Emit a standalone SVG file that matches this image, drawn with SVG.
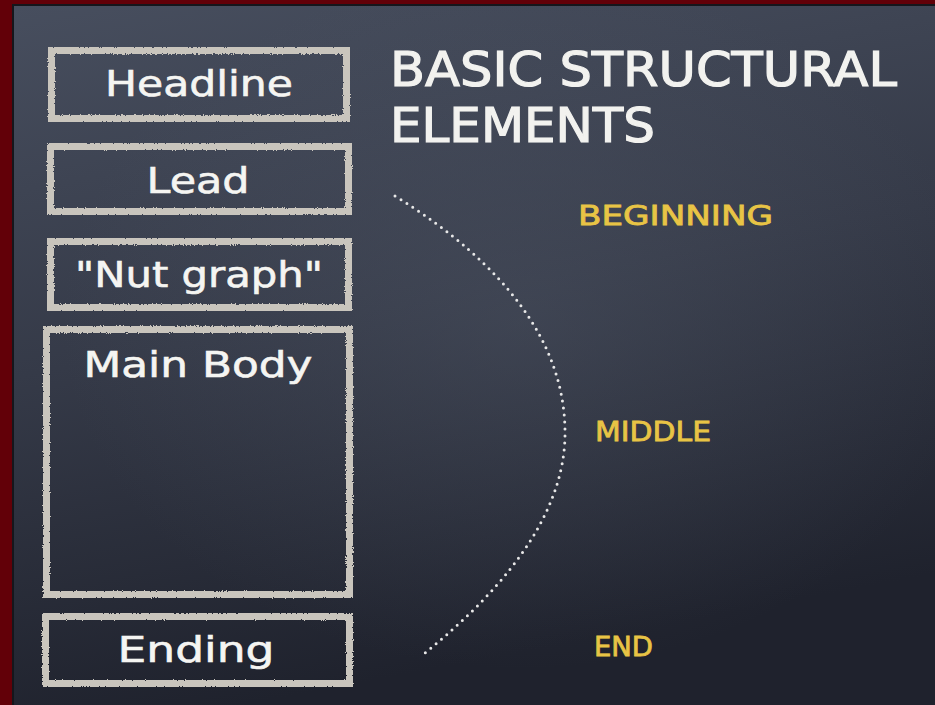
<svg xmlns="http://www.w3.org/2000/svg" width="935" height="705" viewBox="0 0 935 705">
  <defs>
    <linearGradient id="board" x1="0" y1="0" x2="0.25" y2="1">
      <stop offset="0" stop-color="#474e5e"/>
      <stop offset="0.5" stop-color="#353a48"/>
      <stop offset="1" stop-color="#1f222d"/>
    </linearGradient>
    <radialGradient id="smudge" cx="0.55" cy="0.45" r="0.5">
      <stop offset="0" stop-color="#5a6272" stop-opacity="0.3"/>
      <stop offset="1" stop-color="#5a6272" stop-opacity="0"/>
    </radialGradient>
    <filter id="chalk" x="-5%" y="-5%" width="110%" height="110%">
      <feTurbulence type="fractalNoise" baseFrequency="0.9" numOctaves="2" seed="3" result="n"/>
      <feDisplacementMap in="SourceGraphic" in2="n" scale="3" xChannelSelector="R" yChannelSelector="G"/>
    </filter>
    <style>
      .box { fill: none; stroke: #c9c5bd; stroke-width: 7; filter: url(#chalk); }
      .lbl { font-family: "DejaVu Sans", "Noto Sans", sans-serif; font-size: 36px; fill: #f5f5f2; stroke: #f5f5f2; stroke-width: 0.6; text-anchor: middle; }
      .title { font-family: "DejaVu Sans", "Noto Sans", sans-serif; font-size: 48px; fill: #f2f2ef; stroke: #f2f2ef; stroke-width: 1.2; }
      .sec { font-family: "DejaVu Sans", "Noto Sans", sans-serif; font-size: 27px; fill: #e8c445; stroke: #e8c445; stroke-width: 0.8; }
      .dots { fill: none; stroke: #e8e8e8; stroke-width: 3; stroke-linecap: round; stroke-dasharray: 0 7; }
    </style>
  </defs>

  <rect x="0" y="0" width="935" height="705" fill="#620008"/>
  <rect x="12" y="4" width="923" height="701" fill="#15161c"/>
  <rect x="14" y="6" width="921" height="699" fill="url(#board)"/>
  <rect x="14" y="6" width="921" height="699" fill="url(#smudge)"/>

  <g id="headline">
    <rect class="box" x="51.5" y="50.5" width="295" height="68"/>
    <text class="lbl" x="199" y="96" textLength="188" lengthAdjust="spacingAndGlyphs">Headline</text>
  </g>
  <g id="lead">
    <rect class="box" x="50.5" y="146.5" width="298" height="65"/>
    <text class="lbl" x="198" y="193" textLength="103" lengthAdjust="spacingAndGlyphs">Lead</text>
  </g>
  <g id="nut-graph">
    <rect class="box" x="50.5" y="241.5" width="298" height="66"/>
    <text class="lbl" x="199" y="287" textLength="248" lengthAdjust="spacingAndGlyphs">"Nut graph"</text>
  </g>
  <g id="main-body">
    <rect class="box" x="46.5" y="329.5" width="303" height="265"/>
    <text class="lbl" x="198" y="377" textLength="229" lengthAdjust="spacingAndGlyphs">Main Body</text>
  </g>
  <g id="ending">
    <rect class="box" x="45.5" y="616.5" width="304" height="67"/>
    <text class="lbl" x="196" y="662" textLength="157" lengthAdjust="spacingAndGlyphs">Ending</text>
  </g>

  <g id="title">
    <text class="title" x="390" y="86" textLength="507" lengthAdjust="spacingAndGlyphs">BASIC STRUCTURAL</text>
    <text class="title" x="390" y="142" textLength="265" lengthAdjust="spacingAndGlyphs">ELEMENTS</text>
  </g>

  <g id="beginning">
    <text class="sec" x="578" y="225" textLength="195" lengthAdjust="spacingAndGlyphs">BEGINNING</text>
  </g>
  <g id="middle">
    <text class="sec" x="595" y="441" textLength="116" lengthAdjust="spacingAndGlyphs">MIDDLE</text>
  </g>
  <g id="end">
    <text class="sec" x="594" y="656" textLength="59" lengthAdjust="spacingAndGlyphs">END</text>
  </g>

  <g id="connectors">
    <path class="dots" d="M395,196 Q563,300 565,430 Q567,540 420,657"/>
  </g>
</svg>
